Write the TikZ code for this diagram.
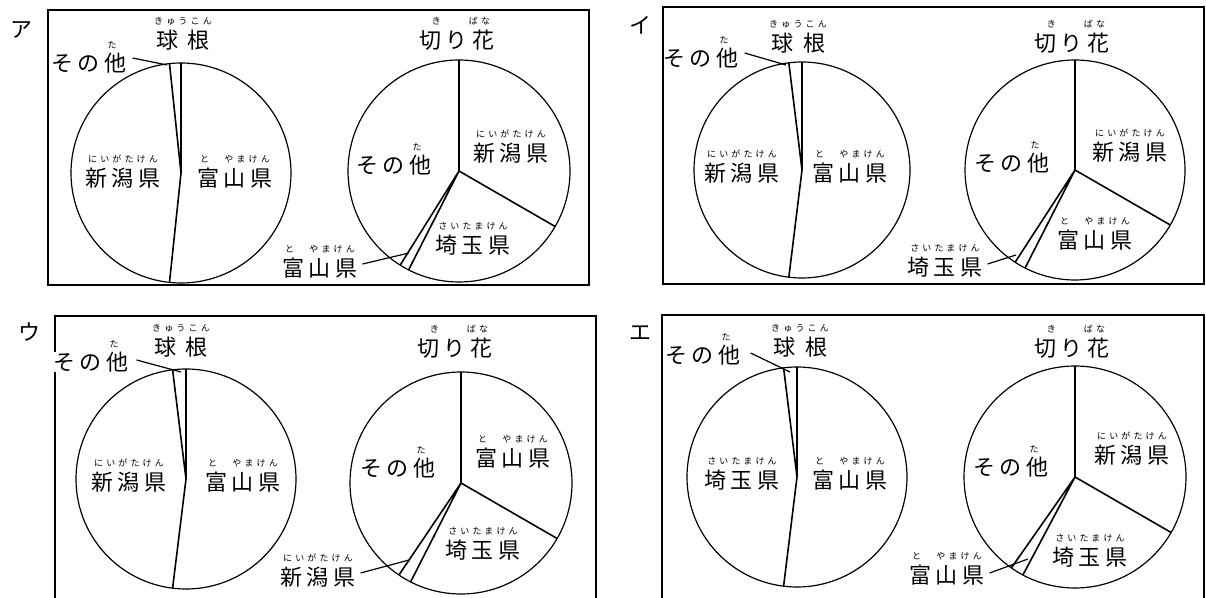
\documentclass[tikz,border=0pt]{standalone}
\usepackage{fontspec}
\usetikzlibrary{positioning}
\newfontfamily\jpfont[LetterSpace=20]{Noto Sans CJK JP}
\newfontfamily\jprubyfont[LetterSpace=35]{Noto Sans CJK JP}
\newfontfamily\jptagfont{Noto Sans CJK JP}
\newcommand\jplbl{\jpfont\fontsize{22}{24}\selectfont}
\newcommand\jpruby{\jprubyfont\fontsize{9}{10}\selectfont}
\newcommand\jptag{\jptagfont\fontsize{22}{24}\selectfont}
\begin{document}
\begin{tikzpicture}[x=1pt,y=1pt,
    frame/.style={line width=2.4pt},
    pie/.style={line width=1.2pt},
    slice/.style={line width=1.6pt},
    leader/.style={line width=1.2pt},
    lbl/.style={inner sep=0pt,font=\jplbl},
    ruby/.style={inner sep=0pt,font=\jpruby},
    tag/.style={inner sep=0pt,font=\jptag}]
    \useasboundingbox (0,0) rectangle (1206,597);

    % ア
    \draw[frame] (48,312) rectangle (589,587);
    \node[tag] (aTag) at (21,567) {ア};
    \coordinate (aC1) at (181,424);
    \draw[pie] (aC1) circle (110pt);
    \draw[slice] (aC1) -- ++(90:110pt) (aC1) -- ++(96:110pt) (aC1) -- ++(264:110pt);
    \node[lbl] (aKyu) at (183,557) {球\hspace{10pt}根};
    \node[ruby, above=4pt of aKyu] (aKyuR) {きゅうこん};
    \node[lbl] (aNii1) at (123,419) {新潟県};
    \node[ruby, above=4pt of aNii1] (aNii1R) {にいがたけん};
    \node[lbl] (aToy1) at (235,419) {富山県};
    \node[ruby, above=4pt of aToy1] (aToy1R) {と　やまけん};
    \node[lbl] (aOth1) at (89,534) {その他};
    \node[ruby, above=4pt of aOth1, xshift=23pt] (aOth1R) {た};
    \coordinate (aOth1P) at (167,532);
    \draw[leader] ([shift={(6pt,5pt)}]aOth1.east) -- (aOth1P);

    \coordinate (aC2) at (459,426);
    \draw[pie] (aC2) circle (111pt);
    \draw[slice] (aC2) -- ++(90:111pt) (aC2) -- ++(-30:111pt) (aC2) -- ++(-117:111pt) (aC2) -- ++(-122:111pt);
    \node[lbl] (aKiri) at (457,557) {切り花};
    \node[ruby, above=4pt of aKiri, xshift=4pt] (aKiriR) {き\hspace{28pt}ばな};
    \node[lbl] (aNii2) at (511,444) {新潟県};
    \node[ruby, above=4pt of aNii2] (aNii2R) {にいがたけん};
    \node[lbl] (aSai2) at (473,352) {埼玉県};
    \node[ruby, above=4pt of aSai2] (aSai2R) {さいたまけん};
    \node[lbl] (aOth2) at (394,432) {その他};
    \node[ruby, above=4pt of aOth2, xshift=23pt] (aOth2R) {た};
    \node[lbl] (aToy2) at (320,329) {富山県};
    \node[ruby, above=4pt of aToy2] (aToy2R) {と　やまけん};
    \coordinate (aToy2P) at (409,344);
    \draw[leader] ([shift={(5pt,4pt)}]aToy2.east) -- (aToy2P);

    % イ
    \draw[frame] (663,313) rectangle (1204,590);
    \node[tag] (bTag) at (640,572) {イ};
    \coordinate (bC1) at (802,427);
    \draw[pie] (bC1) circle (108pt);
    \draw[slice] (bC1) -- ++(90:108pt) (bC1) -- ++(97:108pt) (bC1) -- ++(263:108pt);
    \node[lbl] (bKyu) at (798,554) {球\hspace{10pt}根};
    \node[ruby, above=4pt of bKyu] (bKyuR) {きゅうこん};
    \node[lbl] (bNii1) at (742,424) {新潟県};
    \node[ruby, above=4pt of bNii1] (bNii1R) {にいがたけん};
    \node[lbl] (bToy1) at (850,424) {富山県};
    \node[ruby, above=4pt of bToy1] (bToy1R) {と　やまけん};
    \node[lbl] (bOth1) at (701,539) {その他};
    \node[ruby, above=4pt of bOth1, xshift=23pt] (bOth1R) {た};
    \coordinate (bOth1P) at (786,532);
    \draw[leader] ([shift={(6pt,5pt)}]bOth1.east) -- (bOth1P);

    \coordinate (bC2) at (1075,427);
    \draw[pie] (bC2) circle (110pt);
    \draw[slice] (bC2) -- ++(90:110pt) (bC2) -- ++(-30:110pt) (bC2) -- ++(-117:110pt) (bC2) -- ++(-123:110pt);
    \node[lbl] (bKiri) at (1072,554) {切り花};
    \node[ruby, above=4pt of bKiri, xshift=4pt] (bKiriR) {き\hspace{28pt}ばな};
    \node[lbl] (bNii2) at (1130,445) {新潟県};
    \node[ruby, above=4pt of bNii2] (bNii2R) {にいがたけん};
    \node[lbl] (bToy2) at (1095,357) {富山県};
    \node[ruby, above=4pt of bToy2] (bToy2R) {と　やまけん};
    \node[lbl] (bOth2) at (1012,434) {その他};
    \node[ruby, above=4pt of bOth2, xshift=23pt] (bOth2R) {た};
    \node[lbl] (bSai2) at (945,330) {埼玉県};
    \node[ruby, above=4pt of bSai2] (bSai2R) {さいたまけん};
    \coordinate (bSai2P) at (1016,342);
    \draw[leader] ([shift={(5pt,3pt)}]bSai2.east) -- (bSai2P);

    % ウ
    \draw[frame] (55,-5) -- (55,281) -- (596,281) -- (596,-5);
    \node[tag] (cTag) at (29,265) {ウ};
    \coordinate (cC1) at (186,118);
    \draw[pie] (cC1) circle (110pt);
    \draw[slice] (cC1) -- ++(90:110pt) (cC1) -- ++(97:110pt) (cC1) -- ++(263:110pt);
    \node[lbl] (cKyu) at (181,250) {球\hspace{10pt}根};
    \node[ruby, above=4pt of cKyu] (cKyuR) {きゅうこん};
    \node[lbl] (cNii1) at (129,115) {新潟県};
    \node[ruby, above=4pt of cNii1] (cNii1R) {にいがたけん};
    \node[lbl] (cToy1) at (243,115) {富山県};
    \node[ruby, above=4pt of cToy1] (cToy1R) {と　やまけん};
    \node[lbl, fill=white] (cOth1) at (91,235) {その他};
    \node[ruby, above=4pt of cOth1, xshift=23pt] (cOth1R) {た};
    \coordinate (cOth1P) at (181,225);
    \draw[leader] ([shift={(8pt,2pt)}]cOth1.east) -- (cOth1P);

    \coordinate (cC2) at (461,114);
    \draw[pie] (cC2) circle (111pt);
    \draw[slice] (cC2) -- ++(90:111pt) (cC2) -- ++(-30:111pt) (cC2) -- ++(-117:111pt) (cC2) -- ++(-124:111pt);
    \node[lbl] (cKiri) at (455,249) {切り花};
    \node[ruby, above=4pt of cKiri, xshift=4pt] (cKiriR) {き\hspace{28pt}ばな};
    \node[lbl] (cToy2) at (513,139) {富山県};
    \node[ruby, above=4pt of cToy2] (cToy2R) {と　やまけん};
    \node[lbl] (cSai2) at (483,47) {埼玉県};
    \node[ruby, above=4pt of cSai2] (cSai2R) {さいたまけん};
    \node[lbl] (cOth2) at (398,129) {その他};
    \node[ruby, above=4pt of cOth2, xshift=23pt] (cOth2R) {た};
    \node[lbl] (cNii2) at (318,20) {新潟県};
    \node[ruby, above=4pt of cNii2] (cNii2R) {にいがたけん};
    \coordinate (cNii2P) at (409,37);
    \draw[leader] ([shift={(5pt,4pt)}]cNii2.east) -- (cNii2P);

    % エ
    \draw[frame] (662,-5) -- (662,282) -- (1204,282) -- (1204,-5);
    \node[tag] (dTag) at (640,264) {エ};
    \coordinate (dC1) at (797,120);
    \draw[pie] (dC1) circle (110pt);
    \draw[slice] (dC1) -- ++(90:110pt) (dC1) -- ++(97:110pt) (dC1) -- ++(263:110pt);
    \node[lbl] (dKyu) at (800,250) {球\hspace{10pt}根};
    \node[ruby, above=4pt of dKyu] (dKyuR) {きゅうこん};
    \node[lbl] (dSai1) at (742,117) {埼玉県};
    \node[ruby, above=4pt of dSai1] (dSai1R) {さいたまけん};
    \node[lbl] (dToy1) at (850,117) {富山県};
    \node[ruby, above=4pt of dToy1] (dToy1R) {と　やまけん};
    \node[lbl] (dOth1) at (703,242) {その他};
    \node[ruby, above=4pt of dOth1, xshift=23pt] (dOth1R) {た};
    \coordinate (dOth1P) at (790,225);
    \draw[leader] ([shift={(10pt,2pt)}]dOth1.east) -- (dOth1P);

    \coordinate (dC2) at (1075,120);
    \draw[pie] (dC2) circle (111pt);
    \draw[slice] (dC2) -- ++(90:111pt) (dC2) -- ++(-30:111pt) (dC2) -- ++(-118:111pt) (dC2) -- ++(-125:111pt);
    \node[lbl] (dKiri) at (1072,249) {切り花};
    \node[ruby, above=4pt of dKiri, xshift=4pt] (dKiriR) {き\hspace{28pt}ばな};
    \node[lbl] (dNii2) at (1132,142) {新潟県};
    \node[ruby, above=4pt of dNii2] (dNii2R) {にいがたけん};
    \node[lbl] (dSai2) at (1090,40) {埼玉県};
    \node[ruby, above=4pt of dSai2] (dSai2R) {さいたまけん};
    \node[lbl] (dOth2) at (1011,130) {その他};
    \node[ruby, above=4pt of dOth2, xshift=23pt] (dOth2R) {た};
    \node[lbl] (dToy2) at (947,22) {富山県};
    \node[ruby, above=4pt of dToy2] (dToy2R) {と　やまけん};
    \coordinate (dToy2P) at (1028,38);
    \draw[leader] ([shift={(5pt,2pt)}]dToy2.east) -- (dToy2P);
\end{tikzpicture}
\end{document}
